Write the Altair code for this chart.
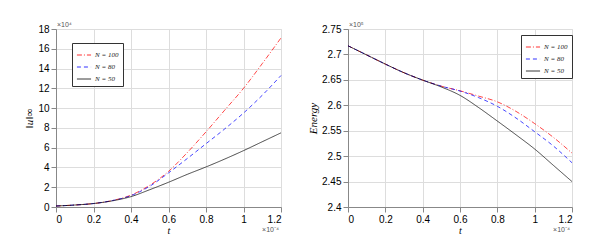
import altair as alt
import pandas as pd

t = [0, 0.1, 0.2, 0.3, 0.4, 0.5, 0.6, 0.7, 0.8, 0.9, 1.0, 1.1, 1.2]
series = ["N = 100", "N = 80", "N = 50"]

# ||u||_inf  (x 1e4)
norm_n100 = [0.1, 0.2, 0.35, 0.65, 1.2, 2.2, 3.6, 5.5, 7.6, 9.8, 12.0, 14.5, 17.1]
norm_n80 = [0.1, 0.2, 0.35, 0.65, 1.15, 2.1, 3.45, 4.9, 6.4, 7.9, 9.5, 11.3, 13.3]
norm_n50 = [0.1, 0.2, 0.35, 0.62, 1.05, 1.75, 2.5, 3.3, 4.05, 4.85, 5.7, 6.6, 7.5]

# Energy (x 1e5)
en_n100 = [2.717, 2.699, 2.681, 2.664, 2.6495, 2.6376, 2.6285, 2.618, 2.6068, 2.588, 2.564, 2.537, 2.506]
en_n80 = [2.717, 2.699, 2.681, 2.664, 2.6495, 2.6376, 2.628, 2.615, 2.598, 2.575, 2.548, 2.52, 2.487]
en_n50 = [2.717, 2.699, 2.681, 2.664, 2.6495, 2.636, 2.6195, 2.5955, 2.569, 2.542, 2.514, 2.482, 2.45]

x_ticks = [0, 0.2, 0.4, 0.6, 0.8, 1.0, 1.2]
norm_ticks = [0, 2, 4, 6, 8, 10, 12, 14, 16, 18]
energy_ticks = [2.4, 2.45, 2.5, 2.55, 2.6, 2.65, 2.7, 2.75]
exp_labels = ["×10⁴", "×10⁵", "×10⁻⁴"]

colors = ["#ff0000", "#0000ff", "#000000"]
dashes = [[5, 2, 1, 2], [4, 3], [1, 0]]


def long_df(vals_list):
    rows = []
    for name, vals in zip(series, vals_list):
        for ti, v in zip(t, vals):
            rows.append({"t": ti, "v": v, "N": name})
    return pd.DataFrame(rows)


AXIS_FONT = "Liberation Sans"
TITLE_FONT = "Liberation Serif"


def panel(df, yticks, ydom, yfmt, ytitle, w, legx, legy, ytitle_size, yexp):
    leg = alt.Legend(
        title=None, orient="none", legendX=legx, legendY=legy,
        symbolType="stroke", symbolSize=200, symbolStrokeWidth=1,
        labelFont=TITLE_FONT, labelFontStyle="italic", labelFontSize=7,
        labelColor="#222", rowPadding=1, padding=4,
        strokeColor="#333", fillColor="white", labelOffset=3,
    )
    lines = alt.Chart(df).mark_line(strokeWidth=0.9, opacity=0.8, interpolate="monotone").encode(
        x=alt.X("t:Q", scale=alt.Scale(domain=[0, 1.2], nice=False),
                axis=alt.Axis(values=x_ticks, format=".1~f", title="t",
                              titleFont=TITLE_FONT, titleFontStyle="italic",
                              titleFontSize=10, titleFontWeight="normal",
                              titlePadding=1)),
        y=alt.Y("v:Q", scale=alt.Scale(domain=ydom, nice=False, zero=False),
                axis=alt.Axis(values=yticks, format=yfmt, title=ytitle,
                              titleFont=TITLE_FONT, titleFontStyle="italic",
                              titleFontSize=ytitle_size, titleFontWeight="normal",
                              titlePadding=3)),
        color=alt.Color("N:N", scale=alt.Scale(domain=series, range=colors), legend=leg),
        strokeDash=alt.StrokeDash("N:N", scale=alt.Scale(domain=series, range=dashes), legend=leg),
    )
    top_exp = alt.Chart(pd.DataFrame({"s": [yexp]})).mark_text(
        align="left", baseline="bottom", fontSize=7, color="#555", font=AXIS_FONT
    ).encode(x=alt.value(1), y=alt.value(-1), text="s:N")
    bot_exp = alt.Chart(pd.DataFrame({"s": [exp_labels[2]]})).mark_text(
        align="right", baseline="top", fontSize=7, color="#555", font=AXIS_FONT
    ).encode(x=alt.value(w - 2), y=alt.value(197), text="s:N")
    return alt.layer(lines, top_exp, bot_exp).properties(width=w, height=178)


left = panel(long_df([norm_n100, norm_n80, norm_n50]), norm_ticks, [0, 18], "d",
             "‖u‖∞", 225, 16, 14, 11, exp_labels[0])
right = panel(long_df([en_n100, en_n80, en_n50]), energy_ticks, [2.4, 2.75], ".2~f",
              "Energy", 224, 173, 6, 11, exp_labels[1])

chart = alt.hconcat(left, right, spacing=23).resolve_scale(
    color="independent", strokeDash="independent"
).resolve_legend(color="independent", strokeDash="independent").properties(
    padding={"left": 15, "top": 12, "right": 0, "bottom": 0}
).configure_axis(
    labelFont=AXIS_FONT, labelFontSize=8, labelColor="#444",
    grid=True, gridColor="#e3e3e3", gridWidth=0.6,
    domainColor="#555", domainWidth=0.8, tickSize=0, labelPadding=3,
    titleColor="#333",
).configure_view(stroke="#555", strokeWidth=0.8).configure(background="white")

chart.save("out.html", embed_options={"renderer": "svg", "actions": False})
